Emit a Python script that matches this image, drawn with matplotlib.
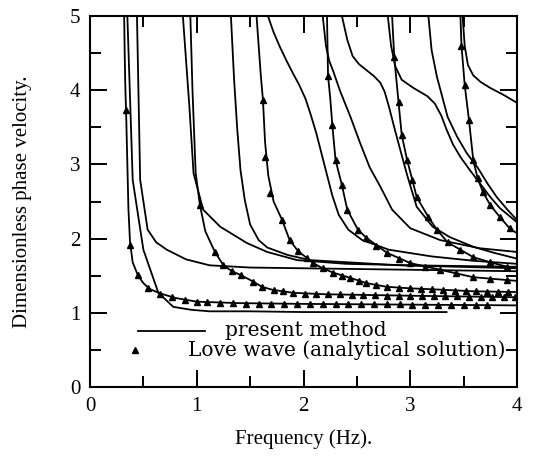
import matplotlib.pyplot as plt
from matplotlib.ticker import MultipleLocator

# present method: curves that follow the Love modes (frequency Hz, phase velocity)
m1_f = [0.32, 0.325, 0.33, 0.34, 0.35, 0.36, 0.375, 0.40, 0.45, 0.50, 0.56, 0.66, 0.80, 1.0, 1.4, 2.0, 3.0, 4.0]
m1_c = [5.0, 4.5, 4.1, 3.6, 3.0, 2.4, 1.95, 1.68, 1.50, 1.40, 1.32, 1.26, 1.20, 1.15, 1.13, 1.12, 1.11, 1.10]
m2_f = [0.94, 0.96, 0.99, 1.03, 1.08, 1.17, 1.25, 1.33, 1.41, 1.53, 1.61, 1.71, 1.90, 2.2, 2.6, 3.0, 3.5, 4.0]
m2_c = [5.0, 4.0, 2.88, 2.45, 2.1, 1.82, 1.64, 1.56, 1.51, 1.42, 1.35, 1.31, 1.27, 1.25, 1.24, 1.23, 1.22, 1.21]
m3_f = [1.56, 1.58, 1.60, 1.62, 1.64, 1.67, 1.72, 1.80, 1.87, 1.95, 2.03, 2.09, 2.18, 2.28, 2.44, 2.59, 2.78, 3.0, 3.31, 3.59, 4.0]
m3_c = [5.0, 4.6, 4.2, 3.87, 3.3, 2.85, 2.5, 2.25, 1.98, 1.83, 1.74, 1.67, 1.60, 1.54, 1.47, 1.40, 1.35, 1.33, 1.31, 1.29, 1.28]
m4_f = [2.22, 2.23, 2.25, 2.27, 2.30, 2.36, 2.41, 2.51, 2.59, 2.78, 3.0, 3.28, 3.59, 4.0]
m4_c = [5.0, 4.19, 3.9, 3.53, 3.06, 2.72, 2.39, 2.12, 2.01, 1.81, 1.67, 1.58, 1.48, 1.43]
m5_f = [2.83, 2.85, 2.89, 2.92, 2.97, 3.02, 3.06, 3.17, 3.25, 3.35, 3.47, 3.59, 3.75, 3.91, 4.0]
m5_c = [5.0, 4.45, 3.84, 3.40, 3.06, 2.79, 2.56, 2.29, 2.12, 1.95, 1.85, 1.75, 1.68, 1.62, 1.60]
m6_f = [3.47, 3.48, 3.51, 3.55, 3.59, 3.63, 3.68, 3.75, 3.84, 3.93, 4.0]
m6_c = [5.0, 4.60, 4.07, 3.60, 3.06, 2.82, 2.63, 2.45, 2.29, 2.14, 2.07]

# present method: the other branches
p1_f = [0.35, 0.40, 0.50, 0.64, 0.78, 0.95, 1.12, 1.5, 2.0, 2.7, 3.34]
p1_c = [5.0, 2.79, 1.85, 1.27, 1.08, 1.04, 1.02, 1.02, 1.01, 1.01, 1.01]
p2_f = [0.44, 0.47, 0.54, 0.62, 0.72, 0.9, 1.12, 1.5, 2.0, 3.0, 4.0]
p2_c = [5.0, 2.79, 2.12, 1.95, 1.85, 1.72, 1.64, 1.61, 1.60, 1.58, 1.56]
p3_f = [0.87, 0.93, 0.97, 1.06, 1.22, 1.47, 1.66, 1.94, 2.4, 3.0, 4.0]
p3_c = [5.0, 3.8, 2.88, 2.39, 2.16, 1.94, 1.82, 1.71, 1.66, 1.64, 1.62]
p4_f = [1.32, 1.35, 1.38, 1.41, 1.45, 1.50, 1.58, 1.66, 1.85, 2.06, 2.9, 4.0]
p4_c = [5.0, 4.14, 3.46, 2.92, 2.52, 2.19, 1.98, 1.88, 1.78, 1.71, 1.64, 1.60]
p6_f = [1.667, 1.72, 1.78, 1.84, 1.90, 1.96, 2.02, 2.07, 2.12, 2.17, 2.22, 2.27, 2.33, 2.42, 2.55, 2.8, 3.2, 3.6, 4.0]
p6_c = [5.0, 4.78, 4.58, 4.40, 4.23, 4.07, 3.88, 3.66, 3.42, 3.14, 2.86, 2.58, 2.32, 2.12, 1.98, 1.85, 1.76, 1.70, 1.66]
p7_f = [2.18, 2.21, 2.24, 2.28, 2.34, 2.44, 2.53, 2.62, 2.72, 2.83, 3.0, 3.28, 3.65, 4.0]
p7_c = [5.0, 4.6, 4.40, 4.25, 4.0, 3.64, 3.29, 2.96, 2.70, 2.39, 2.14, 1.98, 1.87, 1.82]
p8_f = [2.36, 2.41, 2.46, 2.52, 2.59, 2.66, 2.72, 2.76, 2.80, 2.85, 2.90, 2.97, 3.06, 3.21, 3.37, 3.59, 3.78, 4.0]
p8_c = [5.0, 4.68, 4.46, 4.35, 4.27, 4.19, 4.10, 3.98, 3.78, 3.50, 3.23, 2.86, 2.43, 2.16, 2.02, 1.89, 1.81, 1.73]
p9_f = [2.79, 2.82, 2.86, 2.92, 3.03, 3.16, 3.23, 3.29, 3.34, 3.40, 3.47, 3.56, 3.65, 3.75, 3.84, 4.0]
p9_c = [5.0, 4.60, 4.32, 4.14, 4.03, 3.92, 3.82, 3.66, 3.47, 3.27, 3.10, 2.92, 2.75, 2.56, 2.41, 2.22]
p10_f = [3.17, 3.20, 3.25, 3.30, 3.35, 3.44, 3.53, 3.63, 3.72, 3.81, 3.91, 4.0]
p10_c = [5.0, 4.54, 4.18, 3.91, 3.64, 3.37, 3.15, 2.96, 2.75, 2.56, 2.39, 2.25]
p11_f = [3.49, 3.51, 3.54, 3.59, 3.66, 3.75, 3.87, 4.0]
p11_c = [5.0, 4.60, 4.34, 4.20, 4.11, 4.03, 3.94, 3.83]

# Love wave analytical solution points
t1_f = [0.34, 0.375, 0.45, 0.54, 0.66, 0.77, 0.89, 1.00, 1.10, 1.22, 1.34, 1.46, 1.58, 1.70, 1.82, 1.94, 2.06, 2.18,
        2.30, 2.42, 2.54, 2.66, 2.78, 2.90, 3.02, 3.14, 3.26, 3.38, 3.50, 3.62, 3.72]
t1_c = [3.73, 1.91, 1.51, 1.33, 1.26, 1.21, 1.17, 1.15, 1.14, 1.13, 1.13, 1.12, 1.12, 1.12, 1.12, 1.12, 1.12, 1.12,
        1.12, 1.12, 1.12, 1.12, 1.12, 1.12, 1.11, 1.11, 1.11, 1.11, 1.11, 1.11, 1.11]
t2_f = [1.03, 1.17, 1.25, 1.33, 1.41, 1.53, 1.61, 1.72, 1.81, 1.90, 2.01, 2.12, 2.23, 2.34, 2.45, 2.56, 2.67, 2.78,
        2.89, 3.00, 3.11, 3.22, 3.33, 3.44, 3.55, 3.66, 3.77, 3.88, 3.98]
t2_c = [2.45, 1.82, 1.64, 1.56, 1.51, 1.42, 1.35, 1.31, 1.29, 1.27, 1.26, 1.26, 1.25, 1.25, 1.24, 1.24, 1.24, 1.23,
        1.23, 1.23, 1.22, 1.22, 1.22, 1.22, 1.21, 1.21, 1.21, 1.21, 1.21]
t3_f = [1.62, 1.64, 1.69, 1.80, 1.87, 1.95, 2.03, 2.09, 2.18, 2.28, 2.36, 2.44, 2.52, 2.59, 2.68, 2.78, 2.89, 3.00,
        3.10, 3.20, 3.31, 3.42, 3.52, 3.62, 3.72, 3.82, 3.92]
t3_c = [3.87, 3.10, 2.61, 2.25, 1.98, 1.83, 1.74, 1.67, 1.60, 1.54, 1.50, 1.47, 1.43, 1.40, 1.37, 1.35, 1.34, 1.33,
        1.32, 1.32, 1.31, 1.30, 1.29, 1.29, 1.28, 1.28, 1.28]
t4_f = [2.23, 2.27, 2.30, 2.36, 2.41, 2.51, 2.59, 2.68, 2.78, 2.89, 3.0, 3.14, 3.28, 3.43, 3.59, 3.75, 3.91]
t4_c = [4.19, 3.53, 3.06, 2.72, 2.39, 2.12, 2.01, 1.90, 1.81, 1.73, 1.67, 1.62, 1.58, 1.53, 1.48, 1.46, 1.44]
t5_f = [2.85, 2.89, 2.92, 2.97, 3.02, 3.06, 3.17, 3.25, 3.35, 3.47, 3.59, 3.75, 3.91]
t5_c = [4.45, 3.84, 3.40, 3.06, 2.79, 2.56, 2.29, 2.12, 1.95, 1.85, 1.75, 1.68, 1.62]
t6_f = [3.48, 3.51, 3.55, 3.59, 3.63, 3.68, 3.75, 3.84, 3.93]
t6_c = [4.60, 4.07, 3.60, 3.06, 2.82, 2.63, 2.45, 2.29, 2.14]

present = [(m1_f, m1_c), (m2_f, m2_c), (m3_f, m3_c), (m4_f, m4_c), (m5_f, m5_c), (m6_f, m6_c),
           (p1_f, p1_c), (p2_f, p2_c), (p3_f, p3_c), (p4_f, p4_c), (p6_f, p6_c), (p7_f, p7_c),
           (p8_f, p8_c), (p9_f, p9_c), (p10_f, p10_c), (p11_f, p11_c)]
love = [(t1_f, t1_c), (t2_f, t2_c), (t3_f, t3_c), (t4_f, t4_c), (t5_f, t5_c), (t6_f, t6_c)]

fig = plt.figure(figsize=(5.33, 4.67), dpi=100)
ax = fig.add_axes([90 / 533, 80 / 467, 427 / 533, 371 / 467])

for f, c in present:
    ax.plot(f, c, color='black', lw=1.3)
for f, c in love:
    ax.plot(f, c, ls='none', marker='^', ms=4.5, color='black')

ax.set_xlim(0, 4)
ax.set_ylim(0, 5)
ax.xaxis.set_major_locator(MultipleLocator(1))
ax.xaxis.set_minor_locator(MultipleLocator(0.5))
ax.yaxis.set_major_locator(MultipleLocator(1))
ax.yaxis.set_minor_locator(MultipleLocator(0.5))
ax.tick_params(which='both', direction='in', top=True, right=True, width=1.4)
ax.tick_params(which='major', length=12, pad=7, labelsize=15)
ax.tick_params(which='minor', length=8)
for lab in ax.get_xticklabels() + ax.get_yticklabels():
    lab.set_family('Liberation Serif')
for s in ax.spines.values():
    s.set_linewidth(1.5)

ax.set_xlabel('Frequency (Hz).', family='Liberation Serif', fontsize=15, labelpad=10)
ax.set_ylabel('Dimensionless phase velocity.', family='Liberation Serif', fontsize=15, labelpad=27)

# legend drawn by hand inside the axes
ax.plot([0.112, 0.269], [0.151, 0.151], color='black', lw=1.3, transform=ax.transAxes)
ax.text(0.316, 0.151, 'present method', family='DejaVu Serif', fontsize=14.5,
        va='center', transform=ax.transAxes)
ax.plot([0.105], [0.100], ls='none', marker='^', ms=4.5, color='black', transform=ax.transAxes)
ax.text(0.229, 0.100, 'Love wave (analytical solution)', family='DejaVu Serif', fontsize=14.5,
        va='center', transform=ax.transAxes)

fig.savefig('out.png', dpi=100)
